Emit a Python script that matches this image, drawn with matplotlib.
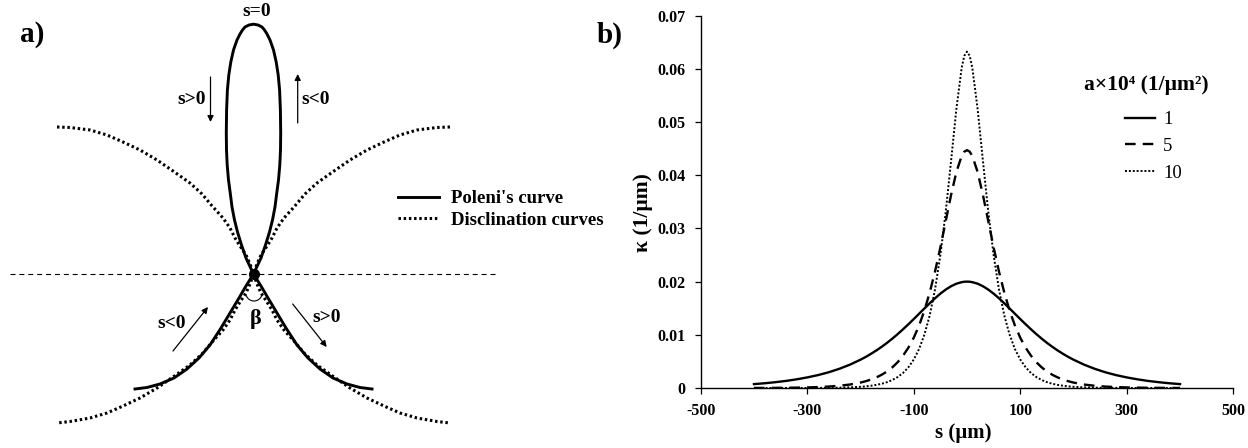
import matplotlib
matplotlib.use('Agg')
import matplotlib.pyplot as plt
from matplotlib.patches import Arc

plt.rcParams['font.family'] = ['Liberation Serif', 'DejaVu Serif']
plt.rcParams['font.weight'] = 'bold'

# ---------------- panel b) data: curvature kappa(s) ----------------
s_um = [-400, -380, -360, -340, -320, -300, -280, -260, -240, -220,
        -200, -190, -180, -170, -160, -150, -140, -130, -120, -110,
        -100, -90, -80, -70, -60, -50, -40, -30, -20, -10,
        -5, 0, 5,
        10, 20, 30, 40, 50, 60, 70, 80, 90, 100,
        110, 120, 130, 140, 150, 160, 170, 180, 190, 200,
        220, 240, 260, 280, 300, 320, 340, 360, 380, 400]

kappa_a1 = [0.00073, 0.00089, 0.00109, 0.00133, 0.00163, 0.00199, 0.00242, 0.00295, 0.00360, 0.00438,
            0.00532, 0.00585, 0.00644, 0.00707, 0.00776, 0.00850, 0.00930, 0.01015, 0.01105, 0.01199,
            0.01296, 0.01396, 0.01495, 0.01593, 0.01687, 0.01774, 0.01850, 0.01913, 0.01961, 0.01990,
            0.01998, 0.02000, 0.01998,
            0.01990, 0.01961, 0.01913, 0.01850, 0.01774, 0.01687, 0.01593, 0.01495, 0.01396, 0.01296,
            0.01199, 0.01105, 0.01015, 0.00930, 0.00850, 0.00776, 0.00707, 0.00644, 0.00585, 0.00532,
            0.00438, 0.00360, 0.00295, 0.00242, 0.00199, 0.00163, 0.00133, 0.00109, 0.00089, 0.00073]

kappa_a5 = [0.000012, 0.000018, 0.000029, 0.000045, 0.00007, 0.00011, 0.00017, 0.00027, 0.00042, 0.00065,
            0.00102, 0.00128, 0.00160, 0.00200, 0.00250, 0.00312, 0.00390, 0.00487, 0.00609, 0.00759,
            0.00945, 0.01174, 0.01455, 0.01796, 0.02191, 0.02643, 0.03134, 0.03625, 0.04059, 0.04363,
            0.04444, 0.04472, 0.04444,
            0.04363, 0.04059, 0.03625, 0.03134, 0.02643, 0.02191, 0.01796, 0.01455, 0.01174, 0.00945,
            0.00759, 0.00609, 0.00487, 0.00390, 0.00312, 0.00250, 0.00200, 0.00160, 0.00128, 0.00102,
            0.00065, 0.00042, 0.00027, 0.00017, 0.00011, 0.00007, 0.000045, 0.000029, 0.000018, 0.000012]

kappa_a10 = [0.0000004, 0.0000008, 0.0000014, 0.0000027, 0.0000051, 0.0000096, 0.000018, 0.000034, 0.000064, 0.00012,
             0.00023, 0.00031, 0.00043, 0.00059, 0.00080, 0.00110, 0.00151, 0.00207, 0.00284, 0.00390,
             0.00535, 0.00732, 0.01002, 0.01366, 0.01855, 0.02497, 0.03307, 0.04261, 0.05241, 0.06021,
             0.06247, 0.06325, 0.06247,
             0.06021, 0.05241, 0.04261, 0.03307, 0.02497, 0.01855, 0.01366, 0.01002, 0.00732, 0.00535,
             0.00390, 0.00284, 0.00207, 0.00151, 0.00110, 0.00080, 0.00059, 0.00043, 0.00031, 0.00023,
             0.00012, 0.000064, 0.000034, 0.000018, 0.0000096, 0.0000051, 0.0000027, 0.0000014, 0.0000008, 0.0000004]

series_labels = ['1', '5', '10']
legend_title_b = 'a×10⁴ (1/µm²)'
x_ticks = [-500, -300, -100, 100, 300, 500]
x_tick_labels = ['-500', '-300', '-100', '100', '300', '500']
y_ticks = [0, 0.01, 0.02, 0.03, 0.04, 0.05, 0.06, 0.07]
y_tick_labels = ['0', '0.01', '0.02', '0.03', '0.04', '0.05', '0.06', '0.07']
x_label_b = 's (µm)'
y_label_b = 'κ (1/µm)'

# ---------------- panel a) diagram data (image units) ----------------
poleni_x = [135, 147, 160, 174, 187, 199, 210, 221, 230, 239, 246, 253.5,
            261, 265.5, 269.5, 272.5, 275, 276.5, 278.5, 279.8, 280.5, 280.7, 280.4, 279.6, 278.2, 276.2, 273.5,
            270, 267, 264.5, 262, 258, 253.5,
            249, 245, 242.5, 240, 237, 233.5, 230.8, 228.8, 227.4, 226.6, 226.3, 226.5, 227.2, 228.5, 230.5,
            232, 234.5, 237.5, 241.5, 246, 253.5,
            261, 268, 277, 286, 297, 308, 320, 333, 347, 360, 372]
poleni_y = [389, 387.5, 384, 378, 369, 358, 345, 328, 313, 298, 286, 274,
            258, 245, 232, 220, 207, 195, 180, 165, 150, 133, 110, 90, 75, 62, 50,
            40, 34, 30, 27, 25, 24.2,
            25, 27, 30, 34, 40, 50, 62, 75, 90, 110, 133, 150, 165, 180, 195,
            207, 220, 232, 245, 258, 274,
            286, 298, 313, 328, 345, 358, 369, 378, 384, 387.5, 389]

discl1_x = [57, 70, 90, 107, 123, 140, 157, 173, 190, 202, 213, 223, 230, 235, 240, 246, 250, 253.5,
            257, 261, 267, 272, 277, 284, 294, 305, 317, 334, 350, 367, 384, 400, 417, 437, 450]
discl1_y = [127, 127.5, 130, 135, 142, 150, 160, 171, 183, 194, 207, 218, 228, 238, 246, 255, 264, 274,
            284, 293, 302, 310, 320, 330, 341, 354, 365, 377, 388, 398, 406, 413, 418, 421.5, 423]
discl2_x = [450, 437, 417, 400, 384, 367, 350, 334, 317, 305, 294, 284, 277, 272, 267, 261, 257, 253.5,
            250, 246, 240, 235, 230, 223, 213, 202, 190, 173, 157, 140, 123, 107, 90, 70, 57]
discl2_y = [127, 127.5, 130, 135, 142, 150, 160, 171, 183, 194, 207, 218, 228, 238, 246, 255, 264, 274,
            284, 293, 302, 310, 320, 330, 341, 354, 365, 377, 388, 398, 406, 413, 418, 421.5, 423]

axis_line_x = [10, 495]
axis_line_y = [274, 274]
cross_x = [253.5]
cross_y = [274]
legend_labels_a = ["Poleni's curve", 'Disclination curves']

# ---------------- figure ----------------
fig = plt.figure(figsize=(12.48, 4.48), dpi=100)
axL = fig.add_axes([0, 0, 1, 1])
axL.set_xlim(0, 1248)
axL.set_ylim(448, 0)
axL.axis('off')

axL.plot(axis_line_x, axis_line_y, color='black', lw=0.8, dashes=(4.5, 3.5))
l_dis, = axL.plot(discl1_x, discl1_y, color='black', lw=2.2, dashes=(0.8, 0.9))
axL.plot(discl2_x, discl2_y, color='black', lw=2.2, dashes=(0.8, 0.9))
l_pol, = axL.plot(poleni_x, poleni_y, color='black', lw=2.1, solid_joinstyle='round')
axL.plot(cross_x, cross_y, 'o', color='black', markersize=7)
axL.add_patch(Arc((254, 292), 17, 18, theta1=20, theta2=160, color='black', lw=0.8))

arrow_kw = dict(arrowstyle='-|>', lw=0.9, color='black', mutation_scale=9,
                shrinkA=0, shrinkB=0)
axL.annotate('', xy=(210.5, 122), xytext=(210.5, 77), arrowprops=arrow_kw)
axL.annotate('', xy=(297.7, 74), xytext=(297.7, 123), arrowprops=arrow_kw)
axL.annotate('', xy=(208, 307), xytext=(173, 351), arrowprops=arrow_kw)
axL.annotate('', xy=(326.7, 347), xytext=(292.7, 304), arrowprops=arrow_kw)

tkw = dict(ha='center', va='center', fontweight='bold', fontsize=14)
axL.text(256.5, 11, 's=0', **tkw)
axL.text(192, 99, 's>0', **tkw)
axL.text(316, 99, 's<0', **tkw)
axL.text(172, 324, 's<0', **tkw)
axL.text(327, 317, 's>0', **tkw)
axL.text(256, 319, 'β', ha='center', va='center', fontweight='bold', fontsize=16)
axL.text(32, 35, 'a)', ha='center', va='center', fontweight='bold', fontsize=21)
axL.text(610, 35, 'b)', ha='center', va='center', fontweight='bold', fontsize=21)

axL.legend([l_pol, l_dis], legend_labels_a, loc='center left', bbox_to_anchor=(398, 209.5),
           bbox_transform=axL.transData, frameon=False,
           prop={'weight': 'bold', 'size': 13.5}, handlelength=2.2, handletextpad=0.64,
           labelspacing=0.25, borderpad=0, borderaxespad=0)

# right panel
axR = fig.add_axes([700.7 / 1248, 1 - 388 / 448, 532.6 / 1248, 372.3 / 448])
axR.patch.set_alpha(0)
axR.plot(s_um, kappa_a1, color='black', lw=1.7, label=series_labels[0])
axR.plot(s_um, kappa_a5, color='black', lw=1.7, dashes=(4.5, 3), label=series_labels[1])
axR.plot(s_um, kappa_a10, color='black', lw=1.4, dashes=(1, 1), label=series_labels[2])
axR.set_xlim(-500, 500)
axR.set_ylim(0, 0.07)
axR.set_xticks(x_ticks)
axR.set_xticklabels(x_tick_labels)
axR.set_yticks(y_ticks)
axR.set_yticklabels(y_tick_labels)
for sp in ['top', 'right']:
    axR.spines[sp].set_visible(False)
for sp in ['left', 'bottom']:
    axR.spines[sp].set_linewidth(1.0)
axR.tick_params(direction='out', length=4, width=0.9, labelsize=11.5, pad=7)
axR.set_xlabel(x_label_b, fontsize=15, fontweight='bold')
axR.xaxis.label.set_va('center')
axR.xaxis.set_label_coords(0.4925, -0.121)
axR.set_ylabel(y_label_b, fontsize=15.5, fontweight='bold')
axR.yaxis.label.set_va('center')
axR.yaxis.set_label_coords(-0.108, 0.47)

axL.text(1146.7, 85, legend_title_b, ha='center', va='center', fontweight='bold', fontsize=15.5)
axR.legend(loc='upper left', bbox_to_anchor=(1125, 111),
           bbox_transform=axL.transData, frameon=False,
           prop={'weight': 'normal', 'size': 13.5},
           handlelength=1.6, handletextpad=0.43, labelspacing=0.52,
           borderpad=0, borderaxespad=0)

fig.savefig('out.png', dpi=100)
